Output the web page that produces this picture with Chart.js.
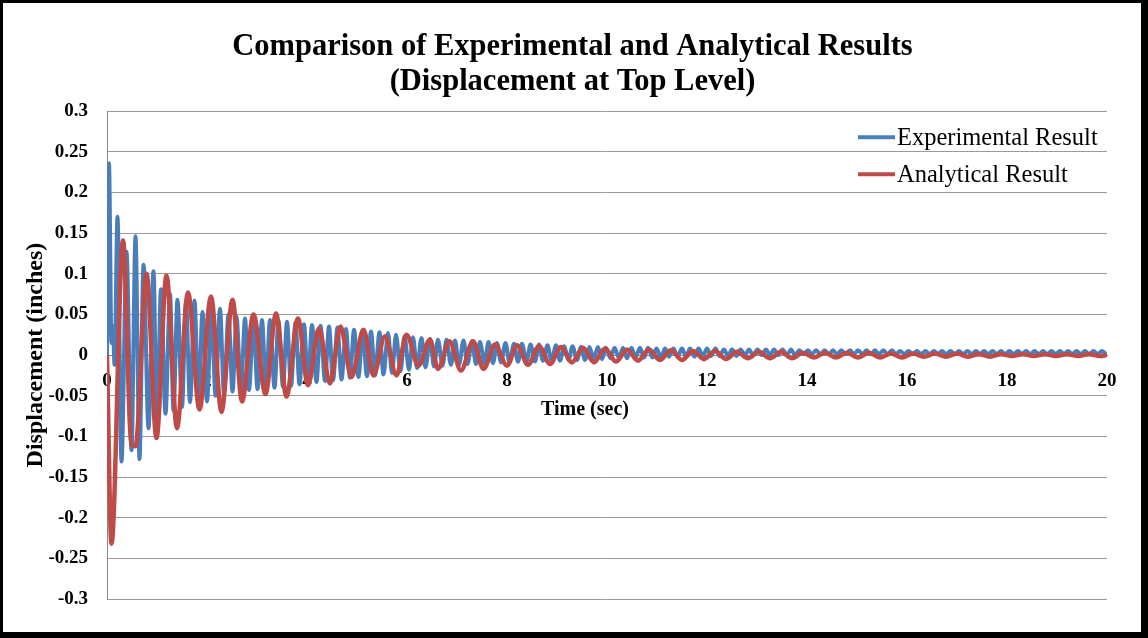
<!DOCTYPE html>
<html><head><meta charset="utf-8">
<script src="https://cdn.jsdelivr.net/npm/chart.js@4.4.0/dist/chart.umd.min.js"></script>
<style>
html,body{margin:0;padding:0;background:#000;width:1148px;height:638px;overflow:hidden;}
#paper{position:absolute;left:3px;top:3px;right:7px;bottom:6px;background:#fff;}
#c{position:absolute;left:0;top:0;}
</style></head><body>
<div id="paper"></div>
<canvas id="c" width="1148" height="638"></canvas>
<script>
// ---- data (extrema) ----
const chartTitle = ['Comparison of Experimental and Analytical Results', '(Displacement at Top Level)'];
const xTitle = 'Time (sec)';
const yTitle = 'Displacement (inches)';
const seriesNames = ['Experimental Result', 'Analytical Result'];

const expTime = [0,0.04,0.09,0.12,0.15,0.21,0.29,0.39,0.49,0.57,0.65,0.73,0.83,0.93,1.00,1.08,1.17,1.26,1.33,1.41,
1.50,1.58,1.66,1.75,1.83,1.91,2.00,2.09,2.17,2.26,2.34,2.43,2.51,2.59,2.68,
2.76,2.84,2.93,3.01,3.10,3.18,3.26,3.35,3.43,3.52,
3.60,3.68,3.77,3.85,3.94,4.02,4.10,4.19,4.27,4.36,
4.44,4.52,4.61,4.69,4.78,4.86,4.94,5.03,5.11,5.20,
5.28,5.36,5.45,5.53,5.62,5.70,5.78,5.87,5.95,6.04,
6.12,6.20,6.29,6.37,6.46,6.54,6.62,6.71,6.79,6.88,
6.96,7.04,7.13,7.21,7.30,7.38,7.46,7.55,7.63,7.72,
7.80,7.88,7.97,8.05,8.14,8.22,8.30,8.39,8.47,8.56,
8.64,8.72,8.81,8.89,8.98,9.06,9.14,9.23,9.31,9.40,
9.48,9.56,9.65,9.73,9.82,9.90,9.98,10.07,10.15,10.24,
10.32,10.40,10.49,10.57,10.66,10.74,10.82,10.91,10.99,11.08,
11.16,11.24,11.33,11.41,11.50,11.58,11.66,11.75,11.83,11.92,
12.00,12.08,12.17,12.25,12.34,12.42,12.50,12.59,12.67,12.76,
12.84,12.92,13.01,13.09,13.18,13.26,13.34,13.43,13.51,13.60,
13.68,13.76,13.85,13.93,14.02,14.10,14.18,14.27,14.35,14.44,
14.52,14.60,14.69,14.77,14.86,14.94,15.02,15.11,15.19,15.28,
15.36,15.44,15.53,15.61,15.70,15.78,15.86,15.95,16.03,16.12,
16.20,16.28,16.37,16.45,16.54,16.62,16.70,16.79,16.87,16.96,
17.04,17.12,17.21,17.29,17.38,17.46,17.54,17.63,17.71,17.80,
17.88,17.96,18.05,18.13,18.22,18.30,18.38,18.47,18.55,18.64,
18.72,18.80,18.89,18.97,19.06,19.14,19.22,19.31,19.39,19.48,
19.56,19.64,19.73,19.81,19.90,19.98];

const expDisp = [0.000,0.236,0.015,0.035,-0.012,0.170,-0.131,0.127,-0.117,0.146,-0.128,0.111,-0.090,0.103,-0.090,0.081,-0.072,0.075,-0.068,0.068,
-0.064,0.066,-0.058,0.067,-0.055,0.053,-0.057,0.055,-0.050,0.057,-0.047,0.050,-0.045,0.047,-0.043,
0.045,-0.043,0.044,-0.042,0.043,-0.041,0.043,-0.040,0.042,-0.039,
0.041,-0.038,0.040,-0.036,0.038,-0.035,0.037,-0.033,0.036,-0.032,
0.035,-0.031,0.034,-0.030,0.032,-0.028,0.031,-0.027,0.030,-0.026,
0.029,-0.025,0.028,-0.024,0.027,-0.022,0.025,-0.020,0.023,-0.018,
0.022,-0.016,0.021,-0.015,0.020,-0.014,0.019,-0.013,0.019,-0.012,
0.018,-0.012,0.018,-0.011,0.017,-0.011,0.016,-0.010,0.016,-0.010,
0.015,-0.009,0.015,-0.009,0.014,-0.008,0.014,-0.008,0.013,-0.008,
0.013,-0.007,0.012,-0.007,0.012,-0.007,0.011,-0.006,0.011,-0.006,
0.010,-0.006,0.010,-0.005,0.010,-0.005,0.009,-0.004,0.009,-0.004,
0.009,-0.004,0.009,-0.003,0.009,-0.003,0.009,-0.003,0.008,-0.003,
0.008,-0.002,0.008,-0.002,0.008,-0.002,0.008,-0.002,0.008,-0.001,
0.008,-0.001,0.008,-0.001,0.007,-0.001,0.007,-0.001,0.007,0.000,
0.007,0.000,0.007,0.000,0.007,0.000,0.007,0.000,0.007,0.000,
0.007,0.000,0.006,0.001,0.006,0.001,0.006,0.001,0.006,0.001,
0.006,0.001,0.006,0.001,0.006,0.001,0.006,0.001,0.006,0.001,
0.006,0.001,0.006,0.001,0.006,0.001,0.005,0.001,0.005,0.001,
0.005,0.001,0.005,0.001,0.005,0.001,0.005,0.001,0.005,0.001,
0.005,0.001,0.005,0.001,0.005,0.001,0.005,0.001,0.005,0.001,
0.005,0.001,0.005,0.001,0.005,0.001,0.005,0.001,0.005,0.001,
0.005,0.001,0.005,0.001,0.005,0.001,0.005,0.001,0.005,0.001,
0.005,0.001,0.005,0.001,0.005,0.001];

const anaTime = [0,0.09,0.32,0.49,0.57,0.79,0.99,1.19,1.40,1.62,1.85,2.08,2.29,2.51,2.70,2.93,3.17,3.38,3.59,3.82,
4.02,4.24,4.46,4.67,4.89,5.13,5.33,5.56,5.79,5.99,6.23,6.46,6.62,6.85,7.08,7.32,7.53,7.76,8.00,8.20,
8.42,8.64,8.86,9.08,9.30,9.52,9.74,9.96,10.18,10.40,10.62,10.84,11.06,11.28,11.50,11.72,11.94,12.16,12.38,12.60,
12.82,13.04,13.26,13.48,13.70,13.92,14.14,14.36,14.58,14.80,15.02,15.24,15.46,15.68,15.90,16.12,16.34,16.56,16.78,17.00,
17.22,17.44,17.66,17.88,18.10,18.32,18.54,18.76,18.98,19.20,19.42,19.64,19.86,20.00];

const anaDisp = [0.000,-0.232,0.141,-0.111,-0.112,0.100,-0.102,0.098,-0.090,0.077,-0.067,0.072,-0.070,0.068,-0.057,0.050,-0.048,0.051,-0.051,0.045,
-0.037,0.033,-0.035,0.035,-0.027,0.031,-0.025,0.023,-0.025,0.025,-0.013,0.019,-0.017,0.017,-0.019,0.017,-0.017,0.013,-0.013,0.012,
-0.012,0.011,-0.011,0.010,-0.009,0.009,-0.009,0.008,-0.008,0.007,-0.007,0.007,-0.006,0.006,-0.006,0.005,-0.005,0.005,-0.005,0.004,
-0.004,0.004,-0.004,0.004,-0.004,0.003,-0.003,0.003,-0.003,0.003,-0.003,0.003,-0.003,0.002,-0.003,0.002,-0.002,0.002,-0.002,0.002,
-0.002,0.001,-0.002,0.001,-0.001,0.001,-0.001,0.001,-0.001,0.001,-0.001,0.001,-0.001,0.000];

const xMin = 0, xMax = 20, xStep = 2;
const yMin = -0.3, yMax = 0.3, yStep = 0.05;
const colors = ['#4A7EBB', '#BE4B48'];

// ---- chart ----
const serif = "'Liberation Serif','Times New Roman',serif";
const toPoints = (ts, vs) => ts.map((t, i) => ({x: t, y: vs[i]}));

const overlayPlugin = {
  id: 'overlayText',
  afterDraw(chart) {
    const {ctx, chartArea} = chart;
    const zeroY = chart.scales.y.getPixelForValue(0);
    ctx.save();
    // x axis title
    ctx.font = "bold 20px " + serif;
    ctx.fillStyle = '#000';
    ctx.textAlign = 'center';
    ctx.textBaseline = 'middle';
    ctx.fillText(xTitle, chartArea.left + 478, zeroY + 55);
    // legend inside plot area
    const x0 = chartArea.right - 249, y0 = chartArea.top + 26, dy = 37;
    ctx.font = "24.5px " + serif;
    ctx.textAlign = 'left';
    [0, 1].forEach(i => {
      const ds = chart.data.datasets[i];
      const y = y0 + i * dy;
      ctx.strokeStyle = ds.borderColor;
      ctx.lineWidth = 4;
      ctx.beginPath(); ctx.moveTo(x0, y); ctx.lineTo(x0 + 37, y); ctx.stroke();
      ctx.fillStyle = '#000';
      ctx.fillText(ds.label, x0 + 39, y + 1);
    });
    ctx.restore();
  }
};

new Chart(document.getElementById('c'), {
  type: 'line',
  data: {
    datasets: [
      {label: seriesNames[0], data: toPoints(expTime, expDisp), borderColor: colors[0], borderWidth: 4,
       pointRadius: 0, cubicInterpolationMode: 'monotone', fill: false, order: 1, yAxisID: 'y'},
      {label: seriesNames[1], data: toPoints(anaTime, anaDisp), borderColor: colors[1], borderWidth: 4.5,
       pointRadius: 0, cubicInterpolationMode: 'monotone', fill: false, order: 0, yAxisID: 'y'}
    ]
  },
  options: {
    responsive: false, animation: false, devicePixelRatio: 1,
    layout: {padding: {left: 0, right: 3, top: 0, bottom: 39}},
    scales: {
      x: {
        type: 'linear', min: xMin, max: xMax, position: {y: 0},
        ticks: {stepSize: xStep, color: '#000', padding: 7, maxRotation: 0,
                font: {family: serif, size: 19, weight: 'bold'}},
        grid: {display: false},
        border: {display: true, color: '#888', width: 1}
      },
      y: {
        type: 'linear', min: yMin, max: yMax, position: 'left',
        ticks: {stepSize: yStep, color: '#000', padding: 19,
                font: {family: serif, size: 19, weight: 'bold'},
                callback: v => String(Number(v.toFixed(2)))},
        grid: {color: '#9a9a9a', drawTicks: false, lineWidth: 1},
        border: {display: true, color: '#888', width: 1},
        title: {display: true, text: yTitle, color: '#000', padding: {top: 21, bottom: 0},
                font: {family: serif, size: 24, weight: 'bold'}},
        afterFit: s => { s.width = 107; }
      },
      yRight: {
        type: 'linear', min: yMin, max: yMax, position: 'right',
        display: true, ticks: {display: false}, grid: {display: false}, border: {display: false},
        afterFit: s => { s.width = 38; }
      }
    },
    plugins: {
      legend: {display: false},
      tooltip: {enabled: false},
      title: {display: true, text: chartTitle, color: '#000',
              font: {family: serif, size: 30.5, weight: 'bold', lineHeight: 1.15},
              padding: {top: 30, bottom: 11}}
    }
  },
  plugins: [overlayPlugin]
});
</script>
</body></html>
